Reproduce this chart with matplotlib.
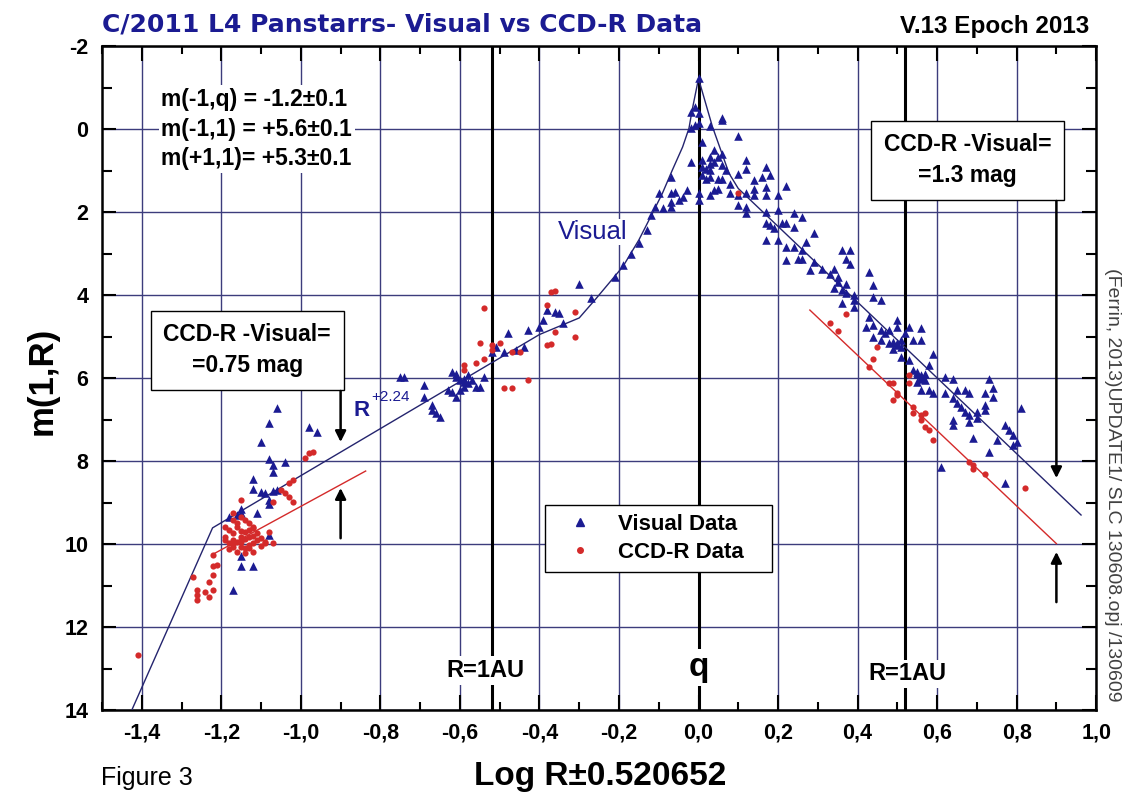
"""
plot.py - C/2011 L4 Panstarrs, visual vs CCD-R secular light curve.
"""

import matplotlib
matplotlib.use("Agg")
import matplotlib.pyplot as plt
from matplotlib.lines import Line2D
from matplotlib.ticker import MultipleLocator
from matplotlib.font_manager import FontProperties

ARIAL = "Liberation Sans"
NAVY = "#1b1b92"
RED = "#d42a2a"
GRID = "#3c3c7c"

# visual magnitudes (log R, m)
vis_peak = [
    (0.00, -1.24), (-0.02, -0.42), (-0.01, -0.54), (-0.02, -0.02), (-0.01, -0.10),
    (0.00, -0.38), (0.00, -0.14), (0.03, -0.07), (0.06, -0.26), (0.06, -0.22),
    (0.10, 0.17), (0.01, 0.31), (0.04, 0.51), (0.03, 0.67), (0.05, 0.67),
    (0.06, 0.59), (0.03, 0.83), (0.04, 0.79), (0.01, 0.75), (0.01, 0.91),
    (0.02, 0.95), (0.03, 0.99), (0.01, 1.11), (0.02, 1.19), (0.03, 1.15),
    (0.05, 1.19), (0.06, 1.19), (0.08, 1.31), (0.06, 0.87), (0.07, 0.99),
    (-0.02, 0.79), (-0.07, 1.15), (-0.10, 1.55), (-0.07, 1.55), (-0.06, 1.51),
    (-0.05, 1.71), (-0.04, 1.63), (-0.03, 1.47), (-0.07, 1.75), (-0.07, 1.87),
    (-0.09, 1.91), (-0.11, 1.87), (-0.12, 2.07), (-0.13, 2.43), (-0.15, 2.74),
    (0.12, 0.75), (0.12, 0.95), (0.10, 1.07), (0.14, 1.23), (0.17, 0.91),
    (0.16, 1.15), (0.18, 1.11), (0.17, 1.39), (0.14, 1.43), (0.14, 1.59),
    (0.17, 1.59), (0.12, 1.55), (0.10, 1.59), (0.08, 1.55), (0.04, 1.47),
    (0.05, 1.43), (0.03, 1.59), (0.00, 1.55), (0.00, 1.71), (0.10, 1.83),
    (0.12, 1.87), (0.12, 2.03), (0.22, 1.37), (0.20, 1.59), (0.20, 1.95),
    (0.24, 2.03), (0.26, 2.11), (0.17, 1.99), (0.17, 2.27), (0.18, 2.31),
    (0.19, 2.39), (0.21, 2.27), (0.22, 2.27), (0.24, 2.35), (0.17, 2.67),
    (0.20, 2.67), (0.29, 2.51), (0.27, 2.71), (0.22, 2.84), (0.24, 2.84),
    (0.26, 2.92), (0.25, 3.12), (0.26, 3.12), (0.22, 3.16), (0.29, 3.20),
    (0.31, 3.36), (0.28, 3.40), (0.33, 3.48), (0.34, 3.36), (0.35, 3.56),
    (0.36, 2.92), (0.38, 2.92), (0.37, 3.12), (0.38, 3.24), (0.35, 3.68),
    (0.37, 3.72), (0.34, 3.84), (0.36, 3.88), (0.37, 3.96), (0.39, 4.00),
    (0.39, 4.12), (0.36, 4.20), (0.39, 4.28), (0.43, 3.44), (0.44, 3.76),
    (0.44, 4.04), (0.46, 4.12),
]
vis_post = [
    (0.42, 4.76), (0.43, 4.52), (0.44, 4.72), (0.46, 4.84), (0.47, 4.92),
    (0.48, 4.84), (0.50, 4.76), (0.50, 4.60), (0.44, 5.00), (0.46, 5.08),
    (0.48, 5.16), (0.50, 5.20), (0.51, 5.24), (0.49, 5.29), (0.51, 5.08),
    (0.52, 4.92), (0.53, 4.76), (0.54, 5.08), (0.56, 4.80), (0.56, 5.08),
    (0.59, 5.41), (0.58, 5.69), (0.53, 5.57), (0.51, 5.49), (0.54, 5.81),
    (0.55, 5.89), (0.56, 5.97), (0.55, 6.09), (0.56, 6.29), (0.58, 6.29),
    (0.59, 6.37), (0.62, 5.97), (0.64, 6.01), (0.65, 6.29), (0.67, 6.29),
    (0.68, 6.37), (0.62, 6.37), (0.64, 6.49), (0.65, 6.61), (0.66, 6.69),
    (0.67, 6.81), (0.68, 6.89), (0.70, 6.81), (0.72, 6.77), (0.72, 6.65),
    (0.73, 6.01), (0.74, 6.25), (0.74, 6.45), (0.72, 6.37), (0.70, 6.97),
    (0.64, 7.01), (0.64, 7.13), (0.68, 7.05), (0.69, 7.45), (0.73, 7.78),
    (0.75, 7.49), (0.77, 7.13), (0.78, 7.25), (0.79, 7.37), (0.80, 7.53),
    (0.79, 7.61), (0.81, 6.73), (0.61, 8.14), (0.77, 8.54), (0.55, 5.85),
    (0.56, 5.93), (0.57, 5.90), (0.56, 6.02), (0.57, 6.05), (0.49, 5.12),
    (0.50, 5.15),
]
vis_pre = [
    (-0.17, 3.01), (-0.19, 3.28), (-0.21, 3.56), (-0.30, 3.72), (-0.27, 4.08),
    (-0.34, 4.68), (-0.36, 4.40), (-0.38, 4.36), (-0.35, 4.42), (-0.39, 4.60),
    (-0.40, 4.76), (-0.75, 5.97), (-0.74, 5.97), (-0.69, 6.17), (-0.69, 6.45),
    (-0.67, 6.65), (-0.67, 6.77), (-0.66, 6.85), (-0.65, 6.93), (-0.48, 4.92),
    (-0.62, 5.85), (-0.61, 5.97), (-0.60, 6.05), (-0.59, 6.01), (-0.59, 6.09),
    (-0.58, 6.13), (-0.59, 6.21), (-0.60, 6.29), (-0.62, 6.33), (-0.63, 6.29),
    (-0.61, 6.45), (-0.56, 6.21), (-0.55, 6.21), (-0.57, 6.05), (-0.58, 5.93),
    (-0.61, 5.89), (-0.54, 5.97), (-0.52, 5.37), (-0.51, 5.25), (-0.49, 5.37),
    (-0.46, 5.33), (-0.44, 5.25), (-0.43, 4.84),
    (-1.06, 6.73), (-1.08, 7.08), (-0.98, 7.17), (-0.96, 7.29), (-1.10, 7.53),
    (-1.08, 7.95), (-1.04, 8.02), (-1.07, 8.10), (-1.07, 8.26), (-1.12, 8.44),
    (-1.12, 8.68), (-1.10, 8.74), (-1.09, 8.78), (-1.07, 8.71), (-1.06, 8.70),
    (-1.08, 8.94), (-1.08, 9.04), (-1.11, 9.26), (-1.15, 9.16), (-1.18, 9.34),
    (-1.16, 9.30), (-1.15, 9.26), (-1.08, 9.78), (-1.15, 10.30), (-1.12, 10.54),
    (-1.15, 10.54), (-1.17, 11.11),
]

# CCD-R magnitudes (log R, m)
ccd_pts = [
    (0.10, 1.55), (0.33, 4.67), (0.35, 4.86), (0.37, 4.46), (0.44, 5.53),
    (0.45, 5.24), (0.43, 5.73), (0.48, 6.13), (0.49, 6.13), (0.50, 6.37),
    (0.50, 6.41), (0.49, 6.53), (0.53, 6.13), (0.53, 5.93), (0.54, 6.69),
    (0.54, 6.85), (0.56, 6.89), (0.57, 6.85), (0.56, 7.01), (0.57, 7.17),
    (0.58, 7.25), (0.59, 7.49), (0.68, 8.02), (0.69, 8.10), (0.69, 8.18),
    (0.72, 8.30), (0.82, 8.66),
    (-0.37, 3.92), (-0.36, 3.90), (-0.38, 4.24), (-0.31, 4.40), (-0.36, 4.88),
    (-0.31, 5.00), (-0.38, 5.21), (-0.37, 5.17), (-0.54, 4.32), (-0.55, 5.15),
    (-0.56, 5.63), (-0.54, 5.53), (-0.59, 5.69), (-0.59, 5.81), (-0.52, 5.20),
    (-0.50, 5.16), (-0.52, 5.33), (-0.47, 5.37), (-0.45, 5.37), (-0.49, 6.25),
    (-0.47, 6.25), (-0.43, 6.05),
    (-0.97, 7.77), (-0.98, 7.81), (-0.99, 7.93), (-1.02, 8.46), (-1.03, 8.54),
    (-1.04, 8.78), (-1.03, 8.86), (-1.02, 8.98), (-1.05, 8.70), (-1.07, 8.98),
    (-1.15, 8.94), (-1.17, 9.26), (-1.17, 9.42), (-1.15, 9.34), (-1.14, 9.42),
    (-1.13, 9.50), (-1.12, 9.58), (-1.12, 9.62), (-1.11, 9.74), (-1.13, 9.82),
    (-1.15, 9.82), (-1.17, 9.90), (-1.17, 9.74), (-1.19, 9.82), (-1.18, 9.98),
    (-1.17, 10.06), (-1.15, 10.06), (-1.16, 10.18), (-1.14, 10.22), (-1.13, 10.02),
    (-1.12, 9.98), (-1.09, 9.98), (-1.09, 9.94), (-1.07, 9.98), (-1.08, 9.70),
    (-1.14, 9.70), (-1.19, 9.58), (-1.16, 9.60), (-1.18, 9.66), (-1.14, 9.88),
    (-1.16, 9.95), (-1.12, 9.80), (-1.10, 9.85), (-1.18, 10.12), (-1.13, 10.10),
    (-1.16, 9.50), (-1.15, 9.68), (-1.13, 9.66), (-1.11, 9.90), (-1.15, 9.95),
    (-1.17, 10.00), (-1.14, 10.10), (-1.12, 10.18), (-1.10, 10.05), (-1.19, 9.90),
    (-1.22, 10.26), (-1.21, 10.50), (-1.22, 10.54), (-1.27, 10.79), (-1.26, 11.11),
    (-1.26, 11.23), (-1.24, 11.15), (-1.23, 11.27), (-1.22, 11.11), (-1.22, 10.75),
    (-1.23, 10.91), (-1.26, 11.35), (-1.41, 12.68),
]

# fitted envelopes
vis_fit_x = [-1.425, -1.222, -0.40, -0.30, -0.26, -0.19, -0.15, -0.116, -0.091,
             -0.066, -0.04, -0.024, -0.016, 0.0, 0.035, 0.077, 0.10, 0.962]
vis_fit_y = [14.0, 9.61, 4.95, 4.55, 4.11, 3.31, 2.67, 2.03, 1.55,
             0.99, 0.43, -0.02, -0.46, -1.22, -0.06, 1.07, 1.43, 9.30]
ccd_fit_pre_x = [-1.216, -0.837]
ccd_fit_pre_y = [10.22, 8.24]
ccd_fit_post_x = [0.28, 0.90]
ccd_fit_post_y = [4.36, 9.99]

ref_lines = [-0.52, 0.0, 0.52]          # R=1AU, q, R=1AU
xtick_vals = [-1.4, -1.2, -1.0, -0.8, -0.6, -0.4, -0.2, 0.0, 0.2, 0.4, 0.6, 0.8, 1.0]
xtick_labels = ["-1,4", "-1,2", "-1,0", "-0,8", "-0,6", "-0,4", "-0,2",
                "0,0", "0,2", "0,4", "0,6", "0,8", "1,0"]
ytick_vals = [-2, 0, 2, 4, 6, 8, 10, 12, 14]

fig = plt.figure(figsize=(11.31, 7.94), dpi=100)
ax = fig.add_axes([0.0902, 0.1058, 0.879, 0.836])

ax.set_xlim(-1.5, 1.0)
ax.set_ylim(14, -2)
ax.set_xticks(xtick_vals)
ax.set_xticklabels(xtick_labels)
ax.set_yticks(ytick_vals)
ax.set_yticklabels([str(v) for v in ytick_vals])
ax.xaxis.set_minor_locator(MultipleLocator(0.1))
ax.yaxis.set_minor_locator(MultipleLocator(1))
ax.set_axisbelow(True)
ax.grid(True, which="major", color=GRID, lw=1.0)
ax.tick_params(which="both", direction="in", top=True, right=True, width=1.5, color="k")
ax.tick_params(axis="x", which="major", length=11, pad=9)
ax.tick_params(axis="x", which="minor", length=6)
ax.tick_params(axis="y", which="major", length=10, pad=10)
ax.tick_params(axis="y", which="minor", length=7)
for lbl in ax.get_xticklabels() + ax.get_yticklabels():
    lbl.set_fontfamily(ARIAL)
    lbl.set_fontweight("bold")
    lbl.set_fontsize(15.5)
for sp in ax.spines.values():
    sp.set_linewidth(1.8)

for xv in ref_lines:
    ax.axvline(xv, color="k", lw=2.2, zorder=2)

ax.plot(vis_fit_x, vis_fit_y, color="#24246e", lw=1.0, zorder=3)
ax.plot(ccd_fit_pre_x, ccd_fit_pre_y, color=RED, lw=1.0, zorder=3)
ax.plot(ccd_fit_post_x, ccd_fit_post_y, color=RED, lw=1.0, zorder=3)

vis_all = vis_peak + vis_post + vis_pre
ax.scatter([p[0] for p in vis_all], [p[1] for p in vis_all], marker="^", s=38,
           color=NAVY, linewidths=0, zorder=4)
ax.scatter([p[0] for p in ccd_pts], [p[1] for p in ccd_pts], marker="o", s=20,
           color=RED, linewidths=0, zorder=4)

bold = dict(family=ARIAL, fontweight="bold")
ax.text(-1.351, 0.0, "m(-1,q) = -1.2\u00b10.1\nm(-1,1) = +5.6\u00b10.1\nm(+1,1)= +5.3\u00b10.1",
        ha="left", va="center", linespacing=1.37, fontsize=16.5, zorder=5,
        bbox=dict(fc="white", ec="none", pad=2), **bold)

box = dict(boxstyle="square,pad=0.55", fc="white", ec="black", lw=1.0)
ax.text(-1.135, 5.33, "CCD-R -Visual=\n=0.75 mag", ha="center", va="center",
        multialignment="center", linespacing=1.45, fontsize=16.5, zorder=6,
        bbox=box, **bold)
ax.text(0.676, 0.75, "CCD-R -Visual=\n=1.3 mag", ha="center", va="center",
        multialignment="center", linespacing=1.45, fontsize=16.5, zorder=6,
        bbox=box, **bold)

white = dict(fc="white", ec="none", pad=2)
ax.text(-0.535, 13.04, "R=1AU", ha="center", va="center", fontsize=17,
        zorder=5, bbox=white, **bold)
ax.text(0.525, 13.13, "R=1AU", ha="center", va="center", fontsize=17,
        zorder=5, bbox=white, **bold)
ax.text(0.0, 13.18, "q", ha="center", va="baseline", fontsize=24,
        zorder=5, bbox=white, **bold)

ax.text(-0.354, 2.65, "Visual", ha="left", va="baseline", fontsize=18.5,
        family=ARIAL, color=NAVY, zorder=1.5,
        bbox=dict(fc="white", ec="none", pad=1))
ax.text(-0.868, 6.92, "R", ha="left", va="baseline", fontsize=16, color=NAVY,
        zorder=1.5, **bold)
ax.text(-0.822, 6.55, "+2.24", ha="left", va="baseline", fontsize=11,
        family=ARIAL, color=NAVY, zorder=1.5)

arrow = dict(arrowstyle="-|>", color="k", lw=1.8, mutation_scale=16,
             shrinkA=0, shrinkB=0)
ax.annotate("", xy=(-0.9, 7.54), xytext=(-0.9, 6.31), arrowprops=arrow, zorder=6)
ax.annotate("", xy=(-0.9, 8.65), xytext=(-0.9, 9.86), arrowprops=arrow, zorder=6)
ax.annotate("", xy=(0.9, 8.41), xytext=(0.9, 1.73), arrowprops=arrow, zorder=6)
ax.annotate("", xy=(0.9, 10.19), xytext=(0.9, 11.4), arrowprops=arrow, zorder=6)

handles = [Line2D([], [], marker="^", ls="none", color=NAVY, ms=6),
           Line2D([], [], marker="o", ls="none", color=RED, ms=4)]
leg = ax.legend(handles, ["Visual Data", "CCD-R Data"], loc="upper left",
                bbox_to_anchor=(0.4457, 0.2048, 0.2284, 0.1039), mode="expand",
                borderaxespad=0, frameon=True, fancybox=False, framealpha=1,
                edgecolor="black", handlelength=2.3, handletextpad=0.6,
                labelspacing=0.3, borderpad=0.4,
                prop=FontProperties(family=ARIAL, weight="bold", size=16))
leg.get_frame().set_linewidth(1.0)

fig.text(0.0902, 0.9597, "C/2011 L4 Panstarrs- Visual vs CCD-R Data", ha="left",
         va="baseline", fontsize=18, fontweight="bold", color=NAVY,
         family="DejaVu Sans")
fig.text(0.9629, 0.9584, "V.13 Epoch 2013", ha="right", va="baseline",
         fontsize=17.5, **bold)
fig.text(0.5305, 0.0113, "Log R\u00b10.520652", ha="center", va="baseline",
         fontsize=24, **bold)
fig.text(0.0893, 0.0113, "Figure 3", ha="left", va="baseline", fontsize=18,
         family=ARIAL)
fig.text(0.037, 0.52, "m(1,R)", rotation=90, ha="center", va="center",
         fontsize=25, **bold)
fig.text(0.984, 0.389, "(Ferrin, 2013)UPDATE1/ SLC 130608.opj /130609",
         rotation=270, ha="center", va="center", fontsize=14, family=ARIAL,
         color="#404040")

fig.savefig("out.png", dpi=100)
